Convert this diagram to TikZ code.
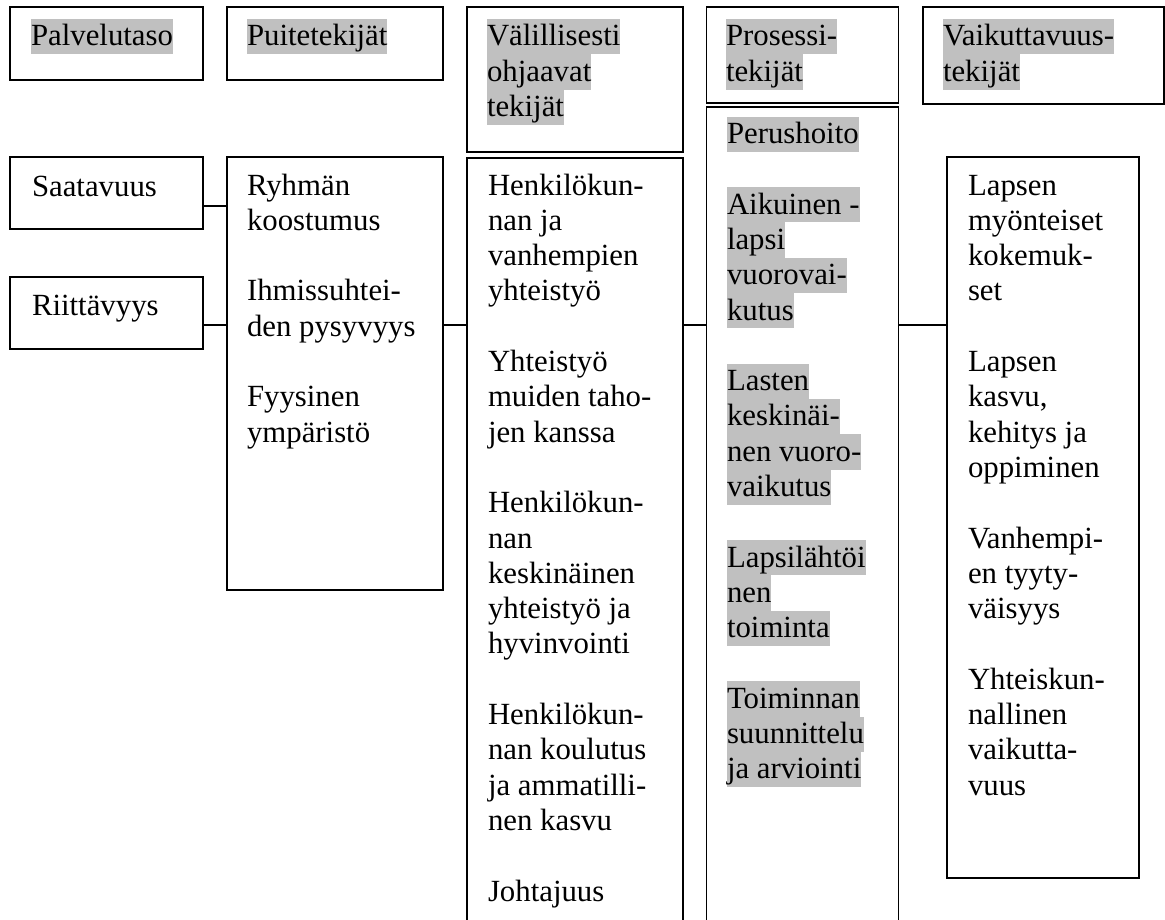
\documentclass[tikz,border=0pt]{standalone}
\usepackage{fontspec}
\setmainfont{Liberation Serif}
\definecolor{hlgray}{RGB}{192,192,192}
\newcommand{\st}{\rule[-8.3pt]{0pt}{35.3pt}}
\newcommand{\hl}[1]{{\setlength{\fboxsep}{0pt}\colorbox{hlgray}{\st #1}}}
\tikzset{
  box/.style={draw, line width=1.3pt, inner sep=0pt, outer sep=0pt, anchor=north west},
  txt/.style={anchor=north west, inner sep=0pt, outer sep=0pt, align=left,
              font=\fontsize{30.8pt}{35.3pt}\selectfont},
  conn/.style={line width=1.1pt}
}
\begin{document}
\begin{tikzpicture}[x=1pt,y=-1pt]
\useasboundingbox (0,0) rectangle (1165,920);
% header boxes
\node[box, minimum width=193pt, minimum height=73pt] (palv) at (10,7) {};
\node[box, minimum width=216pt, minimum height=73pt] (puitT) at (227,7) {};
\node[box, minimum width=216pt, minimum height=145pt] (valT) at (467,7) {};
\node[box, minimum width=192pt, minimum height=96pt] (prosT) at (706.5,7) {};
\node[box, minimum width=241pt, minimum height=97pt] (vaikT) at (923,7) {};
% content boxes
\node[box, minimum width=193pt, minimum height=72pt] (saat) at (10,157) {};
\node[box, minimum width=193pt, minimum height=72pt] (riit) at (10,277) {};
\node[box, minimum width=216pt, minimum height=433pt] (puite) at (227,157) {};
\node[box, minimum width=216pt, minimum height=780pt] (val) at (467,158) {};
\node[box, minimum width=192pt, minimum height=830pt] (perus) at (706.5,107) {};
\node[box, minimum width=192pt, minimum height=721pt] (res) at (947,157) {};
% header texts
\node[txt] (tpalv) at (31,19) {\hl{Palvelutaso}};
\node[txt] (tpuitT) at (247,19) {\hl{Puitetekijät}};
\node[txt] (tvalT) at (487,19) {\hl{Välillisesti}\\\hl{ohjaavat}\\\hl{tekijät}};
\node[txt] (tprosT) at (726,19) {\hl{Prosessi-}\\\hl{tekijät}};
\node[txt] (tvaikT) at (943,19) {\hl{Vaikuttavuus-}\\\hl{tekijät}};
% content texts
\node[txt] (tsaat) at (32,170) {\st Saatavuus};
\node[txt] (triit) at (32,289) {\st Riittävyys};
\node[txt] (tpuite) at (247,168) {\st Ryhmän\\koostumus\\[35.3pt]Ihmissuhtei-\\den pysyvyys\\[35.3pt]Fyysinen\\ympäristö};
\node[txt] (tval) at (488,168) {\st Henkilökun-\\nan ja\\vanhempien\\yhteistyö\\[35.3pt]Yhteistyö\\muiden taho-\\jen kanssa\\[35.3pt]Henkilökun-\\nan\\keskinäinen\\yhteistyö ja\\hyvinvointi\\[35.3pt]Henkilökun-\\nan koulutus\\ja ammatilli-\\nen kasvu\\[35.3pt]Johtajuus};
\node[txt] (tperus) at (727,116.5) {\hl{Perushoito}\\[35.3pt]\hl{Aikuinen -}\\\hl{lapsi}\\\hl{vuorovai-}\\\hl{kutus}\\[35.3pt]\hl{Lasten}\\\hl{keskinäi-}\\\hl{nen vuoro-}\\\hl{vaikutus}\\[35.3pt]\hl{Lapsilähtöi}\\\hl{nen}\\\hl{toiminta}\\[35.3pt]\hl{Toiminnan}\\\hl{suunnittelu}\\\hl{ja arviointi}};
\node[txt] (tres) at (968,168) {\st Lapsen\\myönteiset\\kokemuk-\\set\\[35.3pt]Lapsen\\kasvu,\\kehitys ja\\oppiminen\\[35.3pt]Vanhempi-\\en tyyty-\\väisyys\\[35.3pt]Yhteiskun-\\nallinen\\vaikutta-\\vuus};
% connectors
\coordinate (y1) at (0,206);
\coordinate (y2) at (0,325);
\draw[conn] (saat.east |- y1) -- (puite.west |- y1);
\draw[conn] (riit.east |- y2) -- (puite.west |- y2);
\draw[conn] (puite.east |- y2) -- (val.west |- y2);
\draw[conn] (val.east |- y2) -- (perus.west |- y2);
\draw[conn] (perus.east |- y2) -- (res.west |- y2);
\end{tikzpicture}
\end{document}
